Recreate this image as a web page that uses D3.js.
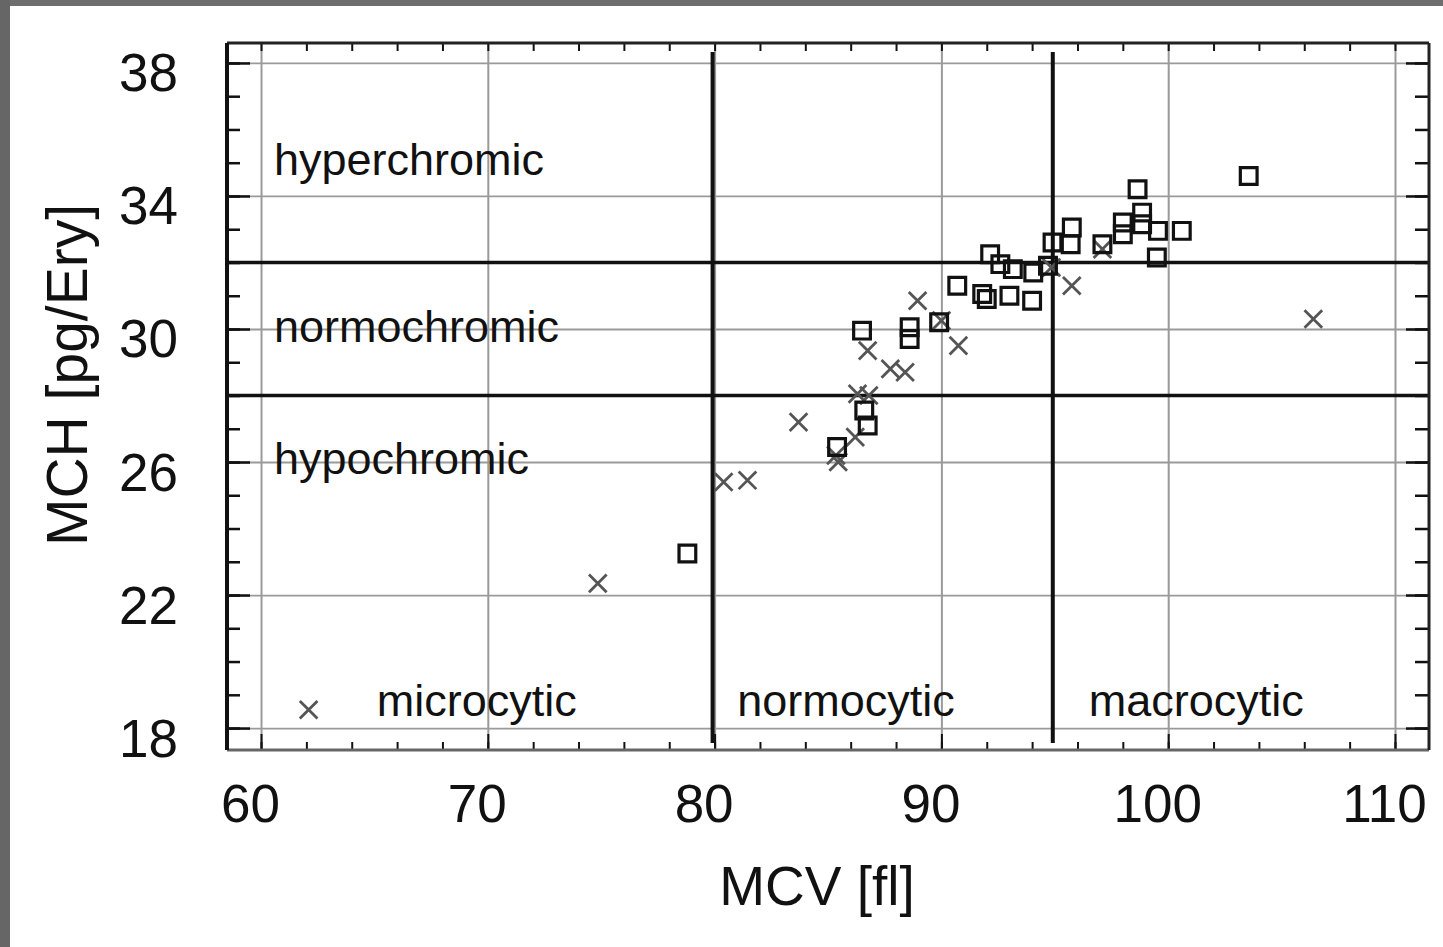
<!DOCTYPE html>
<html>
<head>
<meta charset="utf-8">
<script src="https://cdn.jsdelivr.net/npm/d3@7"></script>
<style>
  html, body { margin: 0; padding: 0; background: #fff; }
  svg { display: block; }
  text { font-family: "Liberation Sans", Arial, sans-serif; fill: #111; }
</style>
</head>
<body>
<svg id="chart" width="1443" height="947"></svg>
<script>
// MCV [fl] vs MCH [pg/Ery] — two patient groups
const squareMCV = [78.8, 85.4, 86.75, 86.6, 86.5, 88.6, 88.6, 89.9, 90.7, 91.8, 92.0, 93.0, 94.0,
                   92.15, 92.6, 93.15, 94.05, 94.7, 94.9, 95.75, 95.7, 97.1, 98.0, 98.0, 98.85,
                   98.85, 98.65, 99.55, 100.6, 99.5, 103.55];
const squareMCH = [23.25, 26.45, 27.1, 27.55, 29.95, 30.05, 29.7, 30.2, 31.3, 31.05, 30.9, 31.0, 30.85,
                   32.25, 31.95, 31.8, 31.7, 31.9, 32.6, 33.05, 32.55, 32.55, 33.2, 32.85, 33.5,
                   33.15, 34.2, 32.95, 32.95, 32.15, 34.6];
const crossMCV = [62.1, 74.85, 80.4, 81.45, 83.7, 85.35, 85.45, 86.2, 86.3, 86.8, 86.75, 87.75,
                  88.4, 88.95, 90.0, 90.75, 94.85, 95.75, 97.1, 106.4];
const crossMCH = [18.55, 22.35, 25.4, 25.45, 27.2, 26.2, 26.0, 26.75, 28.05, 28.0, 29.35, 28.8,
                  28.7, 30.85, 30.25, 29.5, 31.85, 31.3, 32.4, 30.3];

const xTickLabels = [60, 70, 80, 90, 100, 110];
const yTickLabels = [18, 22, 26, 30, 34, 38];
const mcvLimits = [80, 95];      // micro / normo / macro
const mchLimits = [28, 32];      // hypo / normo / hyper
const chromicLabels = [
  { text: "hyperchromic", mch: 34.63 },
  { text: "normochromic", mch: 29.6 },
  { text: "hypochromic", mch: 25.65 }
];
const cyticLabels = [
  { text: "microcytic", mcv: 65.1 },
  { text: "normocytic", mcv: 81.0 },
  { text: "macrocytic", mcv: 96.5 }
];

const svg = d3.select("#chart");
const L = 227, R = 1429, T = 43, B = 750;

const x = d3.scaleLinear().domain([58.5, 111.5]).range([L, R]);
const y = d3.scaleLinear().domain([17.34, 38.6]).range([B, T]);

// outer frame of the figure
svg.append("rect").attr("x", 0).attr("y", 0).attr("width", 1443).attr("height", 947).attr("fill", "#fff");
svg.append("rect").attr("x", 0).attr("y", 0).attr("width", 1443).attr("height", 6).attr("fill", "#6e6e6e");
svg.append("rect").attr("x", 0).attr("y", 0).attr("width", 10).attr("height", 947).attr("fill", "#666");

// grid
const gridX = svg.append("g").attr("transform", `translate(0,${B})`)
  .call(d3.axisBottom(x).tickValues(xTickLabels).tickSize(-(B - T)).tickFormat(""));
gridX.selectAll(".tick line").attr("stroke", "#9a9a9a").attr("stroke-width", 2);
gridX.select(".domain").remove();

const gridY = svg.append("g").attr("transform", `translate(${L},0)`)
  .call(d3.axisLeft(y).tickValues(yTickLabels).tickSize(-(R - L)).tickFormat(""));
gridY.selectAll(".tick line").attr("stroke", "#9a9a9a").attr("stroke-width", 1.8);
gridY.select(".domain").remove();

// inward ticks on all four sides
function ticks(axis, transform, len, width) {
  const g = svg.append("g").attr("transform", transform).call(axis.tickSize(-len).tickFormat(""));
  g.select(".domain").remove();
  g.selectAll(".tick line").attr("stroke", "#111").attr("stroke-width", width);
}
const xMinor = d3.range(60, 111, 2);
const yMinor = d3.range(18, 39, 1);
ticks(d3.axisBottom(x).tickValues(xMinor), `translate(0,${B})`, 8, 2);
ticks(d3.axisTop(x).tickValues(xMinor), `translate(0,${T})`, 8, 2);
ticks(d3.axisBottom(x).tickValues(xTickLabels), `translate(0,${B})`, 16, 2);
ticks(d3.axisLeft(y).tickValues(yMinor), `translate(${L},0)`, 13, 2.5);
ticks(d3.axisRight(y).tickValues(yMinor), `translate(${R},0)`, 14, 2.5);
ticks(d3.axisLeft(y).tickValues(yTickLabels), `translate(${L},0)`, 23, 2.5);
ticks(d3.axisRight(y).tickValues(yTickLabels), `translate(${R},0)`, 23, 2.5);

// classification limits
svg.append("g").selectAll("line").data(mchLimits).join("line")
  .attr("x1", L).attr("x2", R)
  .attr("y1", d => y(d)).attr("y2", d => y(d))
  .attr("stroke", "#111").attr("stroke-width", 3.5);
svg.append("g").selectAll("line").data(mcvLimits).join("line")
  .attr("x1", d => x(d) - 2).attr("x2", d => x(d) - 2)
  .attr("y1", T + 9).attr("y2", B - 7)
  .attr("stroke", "#111").attr("stroke-width", 4);

// plot frame
svg.append("line").attr("x1", L).attr("x2", R).attr("y1", B).attr("y2", B).attr("stroke", "#666").attr("stroke-width", 3);
svg.append("line").attr("x1", L).attr("x2", R).attr("y1", T).attr("y2", T).attr("stroke", "#222").attr("stroke-width", 3);
svg.append("line").attr("x1", L).attr("x2", L).attr("y1", T).attr("y2", B).attr("stroke", "#111").attr("stroke-width", 4);
svg.append("line").attr("x1", R).attr("x2", R).attr("y1", T).attr("y2", B).attr("stroke", "#222").attr("stroke-width", 3);

// tick labels
const xLab = svg.append("g").attr("transform", `translate(0,${B})`)
  .call(d3.axisBottom(x).tickValues(xTickLabels).tickSize(0));
xLab.select(".domain").remove();
xLab.selectAll("text").attr("y", 72).attr("dy", 0).attr("dx", -11)
  .style("font-size", "53px").style("font-family", "Liberation Sans, Arial, sans-serif").attr("fill", "#111");

const yLab = svg.append("g").attr("transform", `translate(${L},0)`)
  .call(d3.axisLeft(y).tickValues(yTickLabels).tickSize(0));
yLab.select(".domain").remove();
yLab.selectAll("text").attr("x", -49).attr("dy", 28)
  .style("font-size", "53px").style("font-family", "Liberation Sans, Arial, sans-serif").attr("fill", "#111");

// axis titles
svg.append("text").attr("x", 817).attr("y", 905).attr("text-anchor", "middle")
  .style("font-size", "55px").text("MCV [fl]");
svg.append("text").attr("transform", "translate(87,375) rotate(-90)").attr("text-anchor", "middle")
  .style("font-size", "57px").text("MCH [pg/Ery]");

// region labels
svg.append("g").selectAll("text").data(chromicLabels).join("text")
  .attr("x", L + 47).attr("y", d => y(d.mch))
  .style("font-size", "45px").text(d => d.text);
svg.append("g").selectAll("text").data(cyticLabels).join("text")
  .attr("x", d => x(d.mcv)).attr("y", y(18.35))
  .style("font-size", "45px").text(d => d.text);

// data
const squares = d3.zip(squareMCV, squareMCH);
const crosses = d3.zip(crossMCV, crossMCH);

svg.append("g").selectAll("path").data(crosses).join("path")
  .attr("transform", d => `translate(${x(d[0])},${y(d[1])})`)
  .attr("d", d3.symbol(d3.symbolX, 205))
  .attr("fill", "none").attr("stroke", "#555").attr("stroke-width", 2.8);

svg.append("g").selectAll("path").data(squares).join("path")
  .attr("transform", d => `translate(${x(d[0])},${y(d[1])})`)
  .attr("d", d3.symbol(d3.symbolSquare, 280))
  .attr("fill", "none").attr("stroke", "#111").attr("stroke-width", 3.2);
</script>
</body>
</html>
